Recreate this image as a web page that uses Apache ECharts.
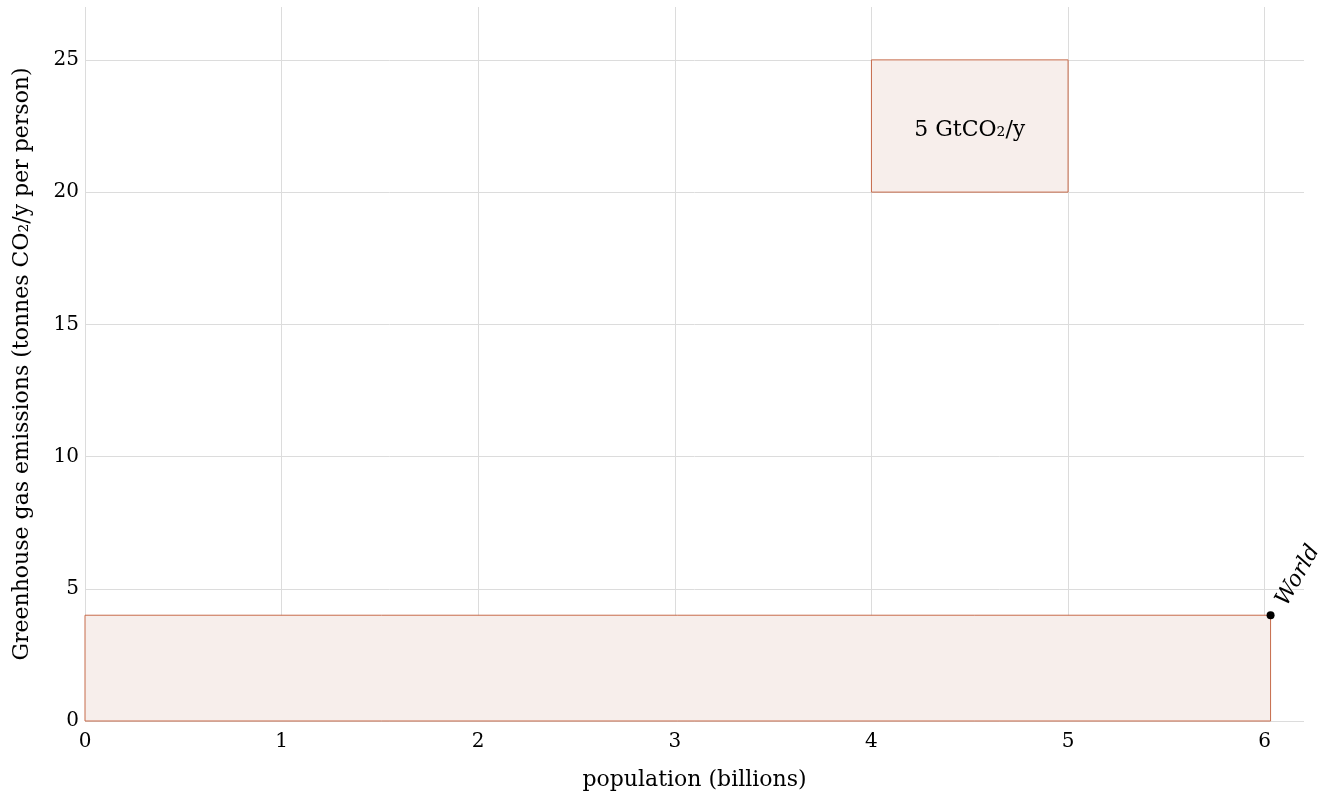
<!DOCTYPE html>
<html><head><meta charset="utf-8">
<script src="https://cdn.jsdelivr.net/npm/echarts@6/dist/echarts.min.js"></script>
<style>html,body{margin:0;padding:0;background:#fff}#c{width:1332px;height:802px}</style>
</head><body><div id="c"></div>
<script>
// Data
var rectNames = ['World', 'scale'];
var rectX0 = [0, 4];
var rectX1 = [6.03, 5];
var rectY0 = [0, 20];
var rectY1 = [4, 25];
var rectLabels = ['', '5 GtCO\u2082/y'];
var pointName = ['World'];
var pointX = [6.03];
var pointY = [4];

var FONT = 'DejaVu Serif';
var FS = 20;
var FN = 22;
var rectData = rectNames.map(function (n, i) {
  return { name: n, value: [rectX0[i], rectX1[i], rectY0[i], rectY1[i]], labelText: rectLabels[i] };
});

var chart = echarts.init(document.getElementById('c'));
chart.setOption({
  animation: false,
  textStyle: { fontFamily: FONT, color: '#000' },
  grid: { left: 85, right: 28, top: 7, bottom: 81, containLabel: false, outerBoundsMode: 'none' },
  xAxis: {
    type: 'value', min: 0, max: 6.2, interval: 1,
    name: 'population (billions)', nameLocation: 'middle', nameGap: 48,
    nameTextStyle: { fontFamily: FONT, fontSize: FN, color: '#000' },
    axisLine: { show: false }, axisTick: { show: false },
    axisLabel: { showMaxLabel: false, fontFamily: FONT, fontSize: FS, color: '#000', margin: 11 },
    splitLine: { show: true, showMaxLine: false, lineStyle: { color: '#dcdcdc', width: 1 } }
  },
  yAxis: {
    type: 'value', min: 0, max: 27, interval: 5,
    name: 'Greenhouse gas emissions (tonnes CO\u2082/y per person)', nameLocation: 'middle', nameGap: 52,
    nameTextStyle: { fontFamily: FONT, fontSize: FN, color: '#000' },
    axisLine: { show: false }, axisTick: { show: false },
    axisLabel: { showMaxLabel: false, fontFamily: FONT, fontSize: FS, color: '#000', margin: 6 },
    splitLine: { show: true, showMaxLine: false, lineStyle: { color: '#dcdcdc', width: 1 } }
  },
  series: [
    {
      type: 'custom',
      data: rectData,
      renderItem: function (params, api) {
        var p0 = api.coord([api.value(0), api.value(2)]);
        var p1 = api.coord([api.value(1), api.value(3)]);
        var item = rectData[params.dataIndex];
        var children = [{
          type: 'rect',
          shape: { x: p0[0], y: p1[1], width: p1[0] - p0[0], height: p0[1] - p1[1] },
          style: { fill: '#f7eeeb', stroke: '#c66a4a', lineWidth: 1 }
        }];
        if (item.labelText) {
          children.push({
            type: 'text',
            style: {
              x: (p0[0] + p1[0]) / 2, y: (p0[1] + p1[1]) / 2 + 4,
              text: item.labelText, align: 'center', verticalAlign: 'middle',
              font: FN + 'px "' + FONT + '"', fill: '#000'
            }
          });
        }
        return { type: 'group', children: children };
      },
      z: 2
    },
    {
      type: 'scatter',
      data: pointX.map(function (x, i) { return { name: pointName[i], value: [x, pointY[i]] }; }),
      symbolSize: 8,
      itemStyle: { color: '#000', opacity: 1 },
      label: {
        show: true, formatter: '{b}', position: [15, -7],
        rotate: 60, align: 'left', verticalAlign: 'middle',
        fontFamily: FONT, fontStyle: 'italic', fontSize: FN, color: '#000', opacity: 1
      },
      z: 3
    }
  ]
});
</script></body></html>
